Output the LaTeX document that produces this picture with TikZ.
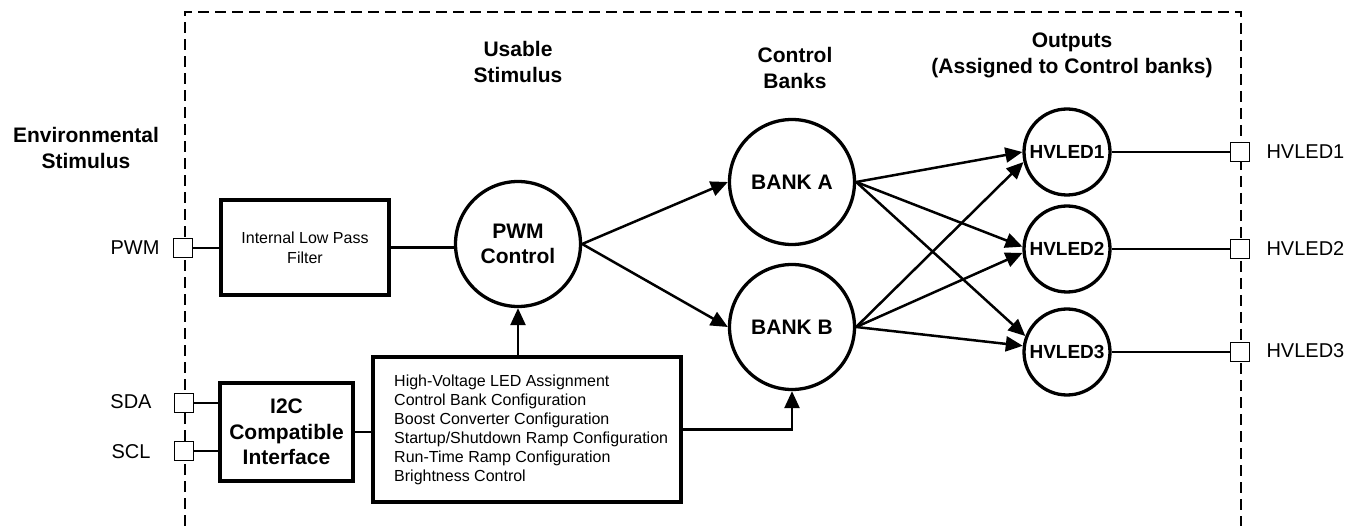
\documentclass[tikz,border=0pt]{standalone}
\usepackage{fontspec}
\setmainfont{Liberation Sans}
\usetikzlibrary{arrows.meta}
\tikzset{
  bigbold/.style={font=\fontsize{21}{26}\selectfont\bfseries, align=center},
  pinlabel/.style={font=\fontsize{20}{24}\selectfont},
  pinsq/.style={draw, line width=1.3pt, fill=white, minimum size=19pt, inner sep=0pt},
  blk/.style={draw, line width=3.2pt, inner sep=0pt},
  circ/.style={draw, circle, line width=3.3pt, inner sep=0pt, minimum size=125pt, font=\fontsize{21}{25}\selectfont\bfseries, align=center},
  ledc/.style={draw, circle, line width=3.3pt, inner sep=0pt, minimum size=86pt, font=\fontsize{19}{22}\selectfont\bfseries},
  wire/.style={line width=2.8pt},
  owire/.style={line width=2.3pt},
  arr/.style={line width=2.5pt, -{Triangle[length=17pt, width=15pt]}},
  dashline/.style={line width=1.3pt, dash pattern=on 11pt off 6pt}
}
\begin{document}
\begin{tikzpicture}[x=1pt, y=-1pt]
\useasboundingbox (0,0) rectangle (1357,526);
% dashed boundary
\draw[dashline] (185,526) |- (1241,12) -- (1241,526);

% titles
\node[bigbold] (tenv) at (86,147.5) {Environmental\\Stimulus};
\node[bigbold] (tuse) at (518,62) {Usable\\Stimulus};
\node[bigbold] (tbank) at (795,68) {Control\\Banks};
\node[bigbold] (tout) at (1072,55) {Outputs\\(Assigned to Control banks)};

% input pins
\node[pinsq] (ppwm) at (183,248) {};
\node[pinsq] (psda) at (184,403) {};
\node[pinsq] (pscl) at (184,451) {};
\node[pinlabel] (lpwm) at (135,248) {PWM};
\node[pinlabel] (lsda) at (131,402) {SDA};
\node[pinlabel] (lscl) at (131,452) {SCL};

% blocks
\node[blk, minimum width=168pt, minimum height=95pt, font=\fontsize{16}{20}\selectfont, align=center] (filter) at (305,247.5) {Internal Low Pass\\Filter};
\node[blk, minimum width=133pt, minimum height=98pt, font=\fontsize{21}{25.5}\selectfont\bfseries, align=center] (i2c) at (286.5,432) {I2C\\Compatible\\Interface};
\node[blk, minimum width=308pt, minimum height=145pt] (cfg) at (527,429.5) {};
\node[anchor=west, align=left, inner sep=0pt, font=\fontsize{16}{19}\selectfont] (cfgtext) at (394,429.5) {High-Voltage LED Assignment\\Control Bank Configuration\\Boost Converter Configuration\\Startup/Shutdown Ramp Configuration\\Run-Time Ramp Configuration\\Brightness Control};

% circles
\node[circ] (pwm) at (518,244) {PWM\\Control};
\node[circ] (banka) at (792,182) {BANK A};
\node[circ] (bankb) at (792,327) {BANK B};
\node[ledc] (h1) at (1067,152) {HVLED1};
\node[ledc] (h2) at (1067,249) {HVLED2};
\node[ledc] (h3) at (1067,352) {HVLED3};

% output pins
\node[pinsq] (o1) at (1240,152) {};
\node[pinsq] (o2) at (1240,249) {};
\node[pinsq] (o3) at (1240,352) {};
\node[pinlabel, anchor=west] (lo1) at (1263,152) {HVLED1};
\node[pinlabel, anchor=west] (lo2) at (1263,249) {HVLED2};
\node[pinlabel, anchor=west] (lo3) at (1263,351) {HVLED3};

% wires
\draw[wire] (ppwm.east) -- (ppwm.east -| filter.west);
\draw[wire] (filter.east) -- (filter.east -| pwm.west);
\draw[wire] (psda.east) -- (psda.east -| i2c.west);
\draw[wire] (pscl.east) -- (pscl.east -| i2c.west);
\draw[wire] (i2c.east) -- (i2c.east -| cfg.west);
\draw[arr] (pwm.south |- cfg.north) -- (pwm.south);
\draw[arr] (cfg.east) -| (bankb.south);
\draw[arr] (pwm.east) -- (banka.west);
\draw[arr] (pwm.east) -- (bankb.west);
\draw[arr] (banka.east) -- (h1.180);
\draw[arr] (banka.east) -- (h2.177);
\draw[arr] (banka.east) -- (h3.159);
\draw[arr] (bankb.east) -- (h1.193);
\draw[arr] (bankb.east) -- (h2.185);
\draw[arr] (bankb.east) -- (h3.172);
\draw[owire] (h1.east) -- (o1.west);
\draw[owire] (h2.east) -- (o2.west);
\draw[owire] (h3.east) -- (o3.west);
\end{tikzpicture}
\end{document}
